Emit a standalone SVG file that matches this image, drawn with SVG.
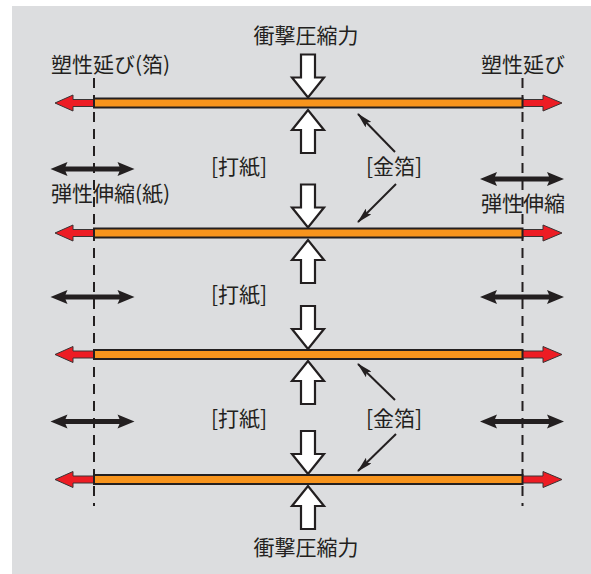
<svg xmlns="http://www.w3.org/2000/svg" xmlns:xlink="http://www.w3.org/1999/xlink" width="591" height="574" viewBox="0 0 591 574">
<style>
.t{font-family:"Noto Sans CJK JP","Noto Sans CJK SC",sans-serif;font-size:21px;fill:#231F20}
.bar{fill:#F7941D;stroke:#231F20;stroke-width:2}
.red{fill:#ED1C24;stroke:#3a3334;stroke-width:1}
.blk{fill:#231F20}
.blockarrow{fill:#fff;stroke:#231F20;stroke-width:2.2;stroke-linejoin:miter}
.dash{stroke:#231F20;stroke-width:2;stroke-dasharray:10 7;fill:none}
.ptr{stroke:#231F20;stroke-width:2;fill:none;marker-end:url(#ah)}
</style>
<defs>
<marker id="ah" markerUnits="userSpaceOnUse" markerWidth="16" markerHeight="8" refX="15" refY="4" orient="auto">
<path d="M0,0 L16,4 L0,8 L3,4 z" fill="#231F20"/>
</marker>
<path id="down" d="M-7,-43 L7,-43 L7,-20 L16,-20 L0,0 L-16,-20 L-7,-20 z"/>
<path id="redL" d="M94,-3.5 L73,-3.5 L73,-8 L55,0 L73,8 L73,3.5 L94,3.5 z"/>
<path id="redR" d="M522,-3.5 L543,-3.5 L543,-8 L562,0 L543,8 L543,3.5 L522,3.5 z"/>
<path id="dbl" d="M-42,0 L-25,-7 L-27,-2.5 L27,-2.5 L25,-7 L42,0 L25,7 L27,2.5 L-27,2.5 L-25,7 z"/>
</defs>
<rect x="0" y="0" width="591" height="574" fill="#ffffff"/>
<rect x="12" y="6" width="579" height="568" fill="#DCDDDF"/>

<g id="guides">
<line class="dash" x1="94" y1="78" x2="94" y2="506"/>
<line class="dash" x1="522.5" y1="78" x2="522.5" y2="506"/>
</g>

<g id="labels">
<text class="t" x="306" y="43" text-anchor="middle">衝撃圧縮力</text>
<text class="t" x="306" y="555" text-anchor="middle">衝撃圧縮力</text>
<text class="t" x="51" y="72">塑性延び(箔)</text>
<text class="t" x="565" y="72" text-anchor="end">塑性延び</text>
<text class="t" x="51" y="201">弾性伸縮(紙)</text>
<text class="t" x="565" y="211" text-anchor="end">弾性伸縮</text>
<text class="t" x="211" y="174">[打紙]</text>
<text class="t" x="366" y="174">[金箔]</text>
<text class="t" x="211" y="302">[打紙]</text>
<text class="t" x="211" y="426">[打紙]</text>
<text class="t" x="366" y="426">[金箔]</text>
</g>

<g id="foil1">
<use href="#redL" class="red" transform="translate(0,103)"/>
<use href="#redR" class="red" transform="translate(0,103)"/>
<rect class="bar" x="94" y="98.5" width="428.5" height="9"/>
</g>
<g id="foil2">
<use href="#redL" class="red" transform="translate(0,233)"/>
<use href="#redR" class="red" transform="translate(0,233)"/>
<rect class="bar" x="94" y="228.5" width="428.5" height="9"/>
</g>
<g id="foil3">
<use href="#redL" class="red" transform="translate(0,354.5)"/>
<use href="#redR" class="red" transform="translate(0,354.5)"/>
<rect class="bar" x="94" y="350" width="428.5" height="9"/>
</g>
<g id="foil4">
<use href="#redL" class="red" transform="translate(0,479.5)"/>
<use href="#redR" class="red" transform="translate(0,479.5)"/>
<rect class="bar" x="94" y="475" width="428.5" height="9"/>
</g>

<g id="forces">
<use href="#down" class="blockarrow" transform="translate(308,97.5)"/>
<use href="#down" class="blockarrow" transform="translate(308,110) scale(1,-1)"/>
<use href="#down" class="blockarrow" transform="translate(308,227.5)"/>
<use href="#down" class="blockarrow" transform="translate(308,240) scale(1,-1)"/>
<use href="#down" class="blockarrow" transform="translate(308,349)"/>
<use href="#down" class="blockarrow" transform="translate(308,361) scale(1,-1)"/>
<use href="#down" class="blockarrow" transform="translate(308,474)"/>
<use href="#down" class="blockarrow" transform="translate(308,486) scale(1,-1)"/>
</g>

<g id="elastic">
<use href="#dbl" class="blk" transform="translate(92.5,169)"/>
<use href="#dbl" class="blk" transform="translate(522,179)"/>
<use href="#dbl" class="blk" transform="translate(92.5,297)"/>
<use href="#dbl" class="blk" transform="translate(522,297)"/>
<use href="#dbl" class="blk" transform="translate(92.5,421.5)"/>
<use href="#dbl" class="blk" transform="translate(522,421.5)"/>
</g>

<g id="connectors">
<line class="ptr" x1="395" y1="152" x2="358" y2="114"/>
<line class="ptr" x1="396" y1="184" x2="358" y2="222"/>
<line class="ptr" x1="395" y1="400" x2="358" y2="364"/>
<line class="ptr" x1="396" y1="434" x2="358" y2="471"/>
</g>
</svg>
